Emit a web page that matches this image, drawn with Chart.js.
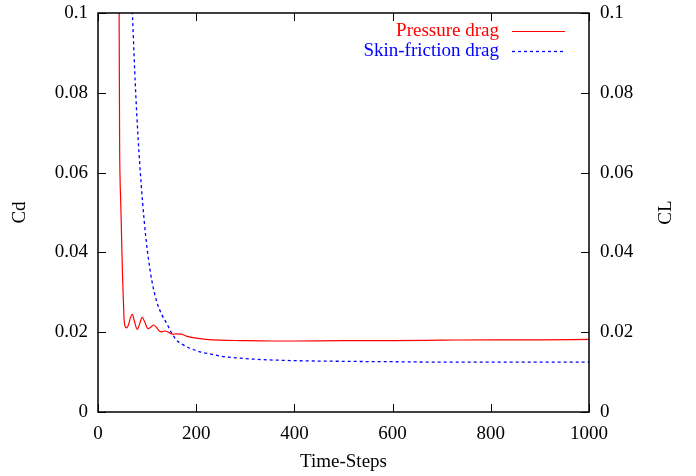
<!DOCTYPE html>
<html>
<head>
<meta charset="utf-8">
<script src="https://cdn.jsdelivr.net/npm/chart.js@4.4.1/dist/chart.umd.min.js"></script>
<style>
    html, body { margin: 0; padding: 0; background: #fff; }
</style>
</head>
<body>
<canvas id="dragChart" width="696" height="476"></canvas>
<script>
const pressureSteps = [40, 43, 44, 45, 45.5, 46, 48, 50, 52, 53, 55, 58, 62, 66, 70, 74, 80, 85, 90, 95, 102, 108, 113, 119, 125, 130, 136, 142, 148, 153, 160, 170, 180, 190, 200, 220, 250, 290, 350, 400, 500, 600, 700, 800, 900, 1000];
const pressureCd = [0.14, 0.1, 0.068, 0.058, 0.0556, 0.054, 0.044, 0.034, 0.027, 0.0235, 0.0215, 0.0211, 0.0218, 0.0236, 0.0245, 0.0228, 0.0207, 0.0222, 0.0237, 0.0226, 0.0209, 0.0213, 0.0218, 0.0212, 0.0203, 0.0201, 0.0203, 0.0201, 0.0197, 0.0195, 0.0196, 0.0195, 0.019, 0.0187, 0.0185, 0.0182, 0.018, 0.0179, 0.0178, 0.0178, 0.0179, 0.0179, 0.018, 0.0181, 0.0181, 0.0182];

const frictionSteps = [60, 65, 70, 76, 82, 88, 94, 100, 110, 120, 130, 140, 150, 160, 170, 180, 195, 210, 230, 255, 290, 323, 391, 500, 600, 700, 800, 900, 1000];
const frictionCd = [0.135, 0.115, 0.1, 0.082, 0.068, 0.057, 0.048, 0.041, 0.0327, 0.0275, 0.0244, 0.0222, 0.0198, 0.018, 0.0171, 0.0164, 0.0156, 0.015, 0.0145, 0.0139, 0.0135, 0.0132, 0.0129, 0.0127, 0.0126, 0.0125, 0.0125, 0.0125, 0.0125];

const seriesLabels = ['Pressure drag', 'Skin-friction drag'];
const xTicks = [0, 200, 400, 600, 800, 1000];
const xTickLabels = ['0', '200', '400', '600', '800', '1000'];
const yTicks = [0, 0.02, 0.04, 0.06, 0.08, 0.1];
const yTickLabels = ['0', '0.02', '0.04', '0.06', '0.08', '0.1'];

const serif = "'Liberation Serif', 'DejaVu Serif', serif";
const fontSize = 19;

// gnuplot-style frame: box, inward ticks on all four sides, legend, right title
const framePlugin = {
    id: 'frame',
    afterDatasetsDraw(chart) {
        const { ctx, chartArea: a, scales } = chart;
        ctx.save();
        ctx.strokeStyle = '#000';
        ctx.lineWidth = 1;
        ctx.beginPath();
        xTicks.forEach(v => {
            const px = Math.round(scales.x.getPixelForValue(v)) + 0.5;
            ctx.moveTo(px, a.bottom); ctx.lineTo(px, a.bottom - 8);
            ctx.moveTo(px, a.top); ctx.lineTo(px, a.top + 8);
        });
        yTicks.forEach(v => {
            const py = Math.round(scales.y.getPixelForValue(v)) + 0.5;
            ctx.moveTo(a.left, py); ctx.lineTo(a.left + 8, py);
            ctx.moveTo(a.right, py); ctx.lineTo(a.right - 8, py);
        });
        ctx.stroke();

        ctx.lineWidth = 1.5;
        ctx.strokeRect(a.left, a.top, a.right - a.left, a.bottom - a.top);

        // legend
        ctx.font = fontSize + 'px ' + serif;
        ctx.textAlign = 'right';
        ctx.textBaseline = 'middle';
        chart.data.datasets.forEach((ds, i) => {
            const y = 31 + i * 20;
            ctx.fillStyle = ds.borderColor;
            ctx.fillText(ds.label, 499, y);
            ctx.strokeStyle = ds.borderColor;
            ctx.lineWidth = ds.borderWidth;
            ctx.setLineDash(ds.borderDash || []);
            ctx.beginPath();
            ctx.moveTo(512, y + 0.5);
            ctx.lineTo(565, y + 0.5);
            ctx.stroke();
        });
        ctx.setLineDash([]);

        // right axis title, reading bottom to top like the left one
        ctx.fillStyle = '#000';
        ctx.textAlign = 'center';
        ctx.translate(666, (a.top + a.bottom) / 2);
        ctx.rotate(-Math.PI / 2);
        ctx.fillText('CL', 0, 0);
        ctx.restore();
    }
};

const tickFont = { family: serif, size: fontSize };
const noPad = s => { s.paddingTop = 0; s.paddingBottom = 0; s.paddingLeft = 0; s.paddingRight = 0; };

new Chart(document.getElementById('dragChart'), {
    type: 'line',
    data: {
        datasets: [
            {
                label: seriesLabels[0],
                data: pressureSteps.map((s, i) => ({ x: s, y: pressureCd[i] })),
                borderColor: '#ff0000',
                borderWidth: 1.2,
                pointRadius: 0,
                cubicInterpolationMode: 'monotone',
                yAxisID: 'y',
            },
            {
                label: seriesLabels[1],
                data: frictionSteps.map((s, i) => ({ x: s, y: frictionCd[i] })),
                borderColor: '#0000ff',
                borderWidth: 1.3,
                borderDash: [3, 3],
                pointRadius: 0,
                cubicInterpolationMode: 'monotone',
                yAxisID: 'y',
            }
        ]
    },
    options: {
        responsive: false,
        animation: false,
        layout: { padding: { top: 13, left: 0, right: 0, bottom: 0 } },
        plugins: { legend: { display: false }, tooltip: { enabled: false } },
        scales: {
            x: {
                type: 'linear',
                min: 0, max: 1000,
                afterBuildTicks: s => { s.ticks = xTicks.map(v => ({ value: v })); },
                afterFit: s => { s.height = 64; noPad(s); },
                grid: { display: false, drawTicks: false },
                border: { display: false },
                ticks: { color: '#000', font: tickFont, padding: 11, maxRotation: 0, callback: (v, i) => xTickLabels[i] },
                title: { display: true, text: 'Time-Steps', color: '#000', font: tickFont, padding: { top: 0, bottom: 3 } }
            },
            y: {
                position: 'left',
                min: 0, max: 0.1,
                afterBuildTicks: s => { s.ticks = yTicks.map(v => ({ value: v })); },
                afterFit: s => { s.width = 98; noPad(s); },
                grid: { display: false, drawTicks: false },
                border: { display: false },
                ticks: { color: '#000', font: tickFont, padding: 10, callback: (v, i) => yTickLabels[i] },
                title: { display: true, text: 'Cd', color: '#000', font: tickFont, padding: { top: 9, bottom: 0 } }
            },
            y2: {
                position: 'right',
                min: 0, max: 0.1,
                afterBuildTicks: s => { s.ticks = yTicks.map(v => ({ value: v })); },
                afterFit: s => { s.width = 107; noPad(s); },
                grid: { display: false, drawTicks: false },
                border: { display: false },
                ticks: { color: '#000', font: tickFont, padding: 11, callback: (v, i) => yTickLabels[i] }
            }
        }
    },
    plugins: [framePlugin]
});
</script>
</body>
</html>
